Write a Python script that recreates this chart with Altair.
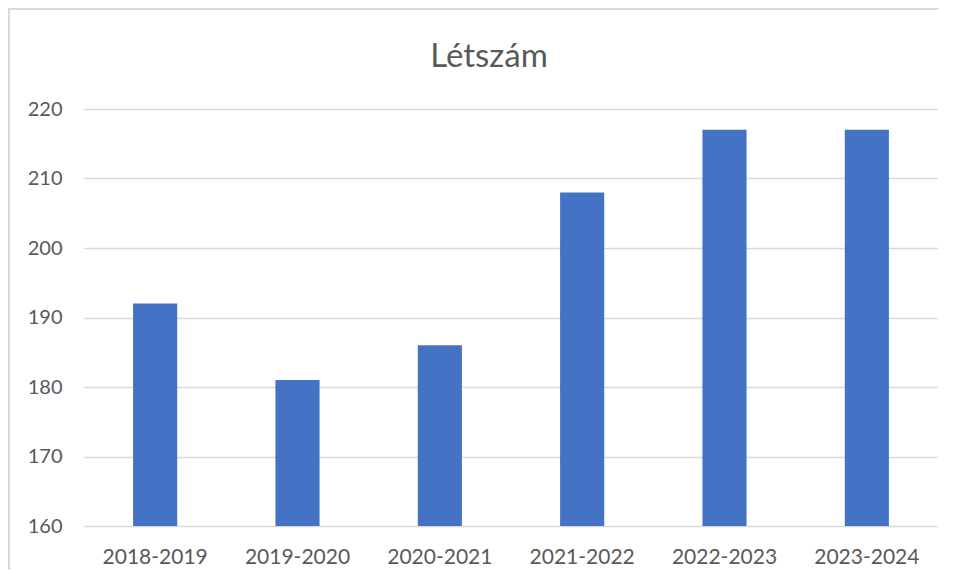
import altair as alt
import pandas as pd

categories = ["2018-2019", "2019-2020", "2020-2021", "2021-2022", "2022-2023", "2023-2024"]
values = [192, 181, 186, 208, 217, 217]
y_ticks = [160, 170, 180, 190, 200, 210, 220]
title_text = "Létszám"

df = pd.DataFrame({"tanev": categories, "letszam": values})

W, H = 854, 417
PAD_L, PAD_T = 76, 101

bars = alt.Chart(df).mark_bar(color="#4472C4", clip=True).encode(
    x=alt.X("tanev:N", sort=categories, title=None,
            scale=alt.Scale(paddingInner=0.69, paddingOuter=0.345),
            axis=alt.Axis(labelAngle=0, labelPadding=20, ticks=False, domain=False, grid=False,
                          labelFont="Lato", labelFontSize=21, labelColor="#595959")),
    y=alt.Y("letszam:Q", title=None,
            scale=alt.Scale(domain=[160, 220], nice=False, zero=False),
            axis=alt.Axis(values=y_ticks, ticks=False, domain=False, labelPadding=22, grid=True,
                          labelFont="Lato", labelFontSize=20, labelColor="#595959",
                          gridColor="#D9D9D9", gridWidth=1.5)),
)

frame = pd.DataFrame({"k": [0]})
left_border = alt.Chart(frame).mark_rule(color="#D9D9D9", strokeWidth=2).encode(
    x=alt.value(-PAD_L + 1), y=alt.value(-PAD_T), y2=alt.value(H + 44)
)
top_border = alt.Chart(frame).mark_rule(color="#D9D9D9", strokeWidth=2).encode(
    x=alt.value(-PAD_L), x2=alt.value(W), y=alt.value(-PAD_T + 1)
)
title = alt.Chart(frame).mark_text(
    text=title_text, font="Lato", fontSize=33, color="#595959",
    align="center", baseline="alphabetic"
).encode(x=alt.value(405), y=alt.value(-42))

chart = alt.layer(bars, left_border, top_border, title).properties(
    width=W, height=H,
    autosize=alt.AutoSizeParams(type="none"),
    padding={"left": PAD_L, "top": PAD_T, "right": 0, "bottom": 44},
).configure_view(stroke=None)

chart.save("out.html", embed_options={"renderer": "svg", "actions": False})
